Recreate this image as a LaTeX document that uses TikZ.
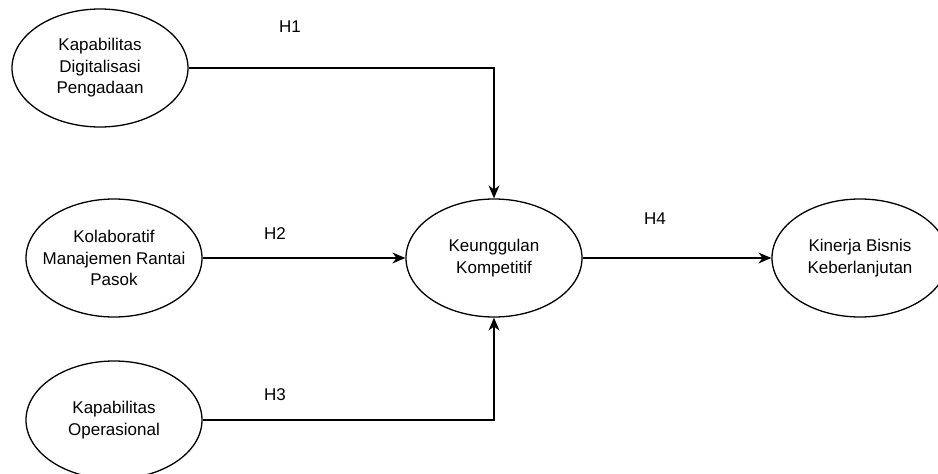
\documentclass[tikz,border=0pt]{standalone}
\usepackage{fontspec}
\setmainfont{Liberation Sans}
\usetikzlibrary{shapes.geometric,arrows.meta}
\begin{document}
\begin{tikzpicture}[x=1pt,y=-1pt,
  construct/.style={ellipse,draw,line width=1.3pt,minimum width=176pt,minimum height=118pt,
    inner xsep=-20pt,inner ysep=-10pt,align=center,font=\fontsize{17}{21.5}\selectfont},
  link/.style={line width=1.3pt,-{Stealth[length=13pt,width=11pt]}},
  hyp/.style={font=\fontsize{17}{21.5}\selectfont}]
  \useasboundingbox (0,0) rectangle (938,474);
  \fill[white] (0,0) rectangle (938,474);
  % constructs
  \node[construct] (kdp) at (100,68) {Kapabilitas\\Digitalisasi\\Pengadaan};
  \node[construct] (kmrp) at (114,258) {Kolaboratif\\Manajemen Rantai\\Pasok};
  \node[construct] (ko) at (114,420) {Kapabilitas\\Operasional};
  \node[construct] (kk) at (494,258) {Keunggulan\\Kompetitif};
  \node[construct] (kbk) at (860,258) {Kinerja Bisnis\\Keberlanjutan};
  % paths
  \draw[link] (kdp.east) -| (kk.north);
  \draw[link] (kmrp.east) -- (kk.west);
  \draw[link] (ko.east) -| (kk.south);
  \draw[link] (kk.east) -- (kbk.west);
  % hypothesis labels
  \node[hyp] (h1) at (290,27) {H1};
  \node[hyp] (h2) at (275,234) {H2};
  \node[hyp] (h3) at (275,395) {H3};
  \node[hyp] (h4) at (655,219) {H4};
\end{tikzpicture}
\end{document}
